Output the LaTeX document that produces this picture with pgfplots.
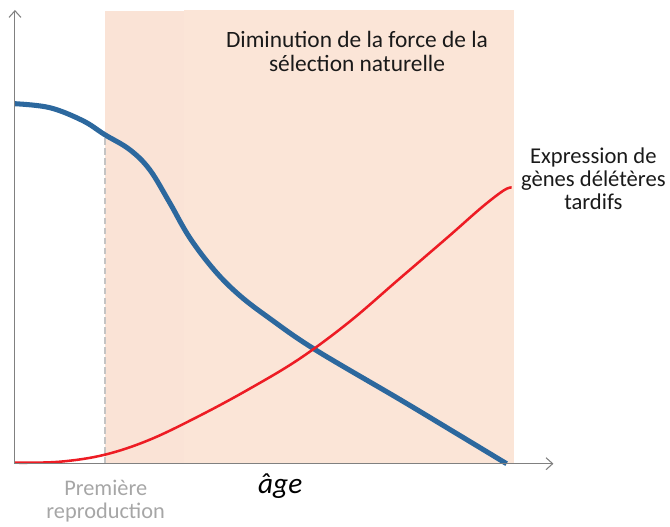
\documentclass[border=0pt]{standalone}
\usepackage{pgfplots}
\pgfplotsset{compat=1.18}
\usepackage{fontspec}
\setmainfont{Carlito}
\usetikzlibrary{arrows.meta}
\definecolor{shadeA}{RGB}{250,227,214}
\definecolor{shadeB}{RGB}{251,229,215}
\definecolor{cblue}{RGB}{44,104,158}
\definecolor{cred}{RGB}{237,28,36}
\definecolor{axgray}{RGB}{128,128,128}
\definecolor{dgray}{RGB}{196,196,196}
\definecolor{tgray}{RGB}{166,166,166}
\definecolor{txt}{RGB}{26,26,26}
\begin{document}
\begin{tikzpicture}
\begin{axis}[
  width=405pt, height=341.25pt, scale only axis,
  xmin=15, xmax=555, ymin=61, ymax=516,
  axis lines=left,
  axis line style={axgray, line width=0.8pt, -{Straight Barb[length=5pt,width=9pt]}},
  ticks=none,
  clip=false,
  axis on top,
]
% shaded zone
\addplot[fill=shadeA, draw=none] coordinates {(105,61) (186,61) (186,515) (105,515)} -- cycle;
\addplot[fill=shadeB, draw=none] coordinates {(185,61) (515,61) (515,516) (185,516)} -- cycle;
% dashed line: first reproduction
\addplot[dgray, line width=1.8pt, dash pattern=on 5pt off 2.5pt] coordinates {(105,61) (105,391)};
% blue curve
\addplot[cblue, line width=3.8pt, smooth, tension=0.6] coordinates {
(15,422) (50,418) (83,405) (105,391) (130,376) (150,356) (170,323)
(190,288) (215,255) (240,230) (270,207) (315,176) (400,126) (450,96) (508,61)};
% red curve
\addplot[cred, line width=1.9pt, smooth, tension=0.6] coordinates {
(15,62) (60,63) (105,70) (150,85) (200,109) (250,136) (300,166) (350,203)
(400,246) (450,289) (483,318) (505,335) (513,338)};
% texts
\node[anchor=base, font=\fontsize{17.6}{18}\selectfont, text=txt] at (axis cs:358,478) {Diminution de la force de la};
\node[anchor=base, font=\fontsize{17.6}{18}\selectfont, text=txt] at (axis cs:358,454) {sélection naturelle};
\node[anchor=base, font=\fontsize{17}{18}\selectfont, text=txt] at (axis cs:595,362) {Expression de};
\node[anchor=base, font=\fontsize{17}{18}\selectfont, text=txt] at (axis cs:595,339) {gènes délétères};
\node[anchor=base, font=\fontsize{17}{18}\selectfont, text=txt] at (axis cs:595,316) {tardifs};
\node[anchor=base, font=\fontsize{16.8}{18}\selectfont, text=tgray] at (axis cs:106,29) {Première};
\node[anchor=base, font=\fontsize{16.8}{18}\selectfont, text=tgray] at (axis cs:106,6) {reproduction};
\node[anchor=base, font=\fontsize{22}{24}\selectfont\itshape, text=black] at (axis cs:281,31) {âge};
\path[use as bounding box] (axis cs:0,0) rectangle (axis cs:670,526);
\end{axis}
\end{tikzpicture}
\end{document}
